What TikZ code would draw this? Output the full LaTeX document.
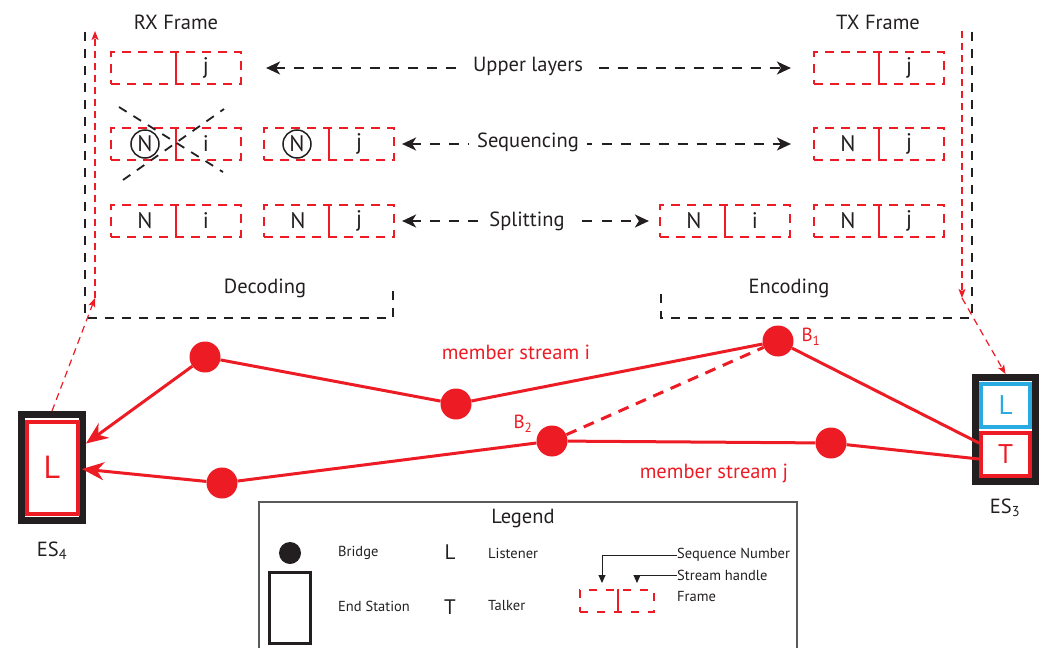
\documentclass[tikz,border=0pt]{standalone}
\usepackage{fontspec}
\setmainfont{PT Sans}
\usetikzlibrary{arrows.meta,calc}
\definecolor{myred}{HTML}{ED1C24}
\definecolor{myblue}{HTML}{29ABE2}
\definecolor{dark}{HTML}{231F20}
\newcommand\rfr[5]{%
  \node[fr] (#1) at (#2,#3) {};
  \draw[myred, line width=2.2pt] (#1.north) -- (#1.south);
  \node[ftxt] (#1l) at ($(#1.center)+(-31,0)$) {#4};
  \node[ftxt] (#1r) at ($(#1.center)+(30,0)$) {#5};
}
\begin{document}
\begin{tikzpicture}[x=1pt,y=-1pt,
  lbl/.style={inner sep=0pt, font=\fontsize{20.5}{23}\selectfont, text=dark},
  ftxt/.style={inner sep=0pt, font=\fontsize{22.5}{25}\selectfont, text=dark},
  fr/.style={draw=myred, line width=2.2pt, dash pattern=on 9pt off 7pt, minimum width=130pt, minimum height=32pt, inner sep=0pt},
  darr/.style={draw=dark, line width=1.8pt, dash pattern=on 10pt off 9pt, {Stealth[length=14pt,width=13pt,inset=4pt]}-{Stealth[length=14pt,width=13pt,inset=4pt]}},
  bdash/.style={draw=dark, line width=1.5pt, dash pattern=on 9pt off 8pt},
  tarr/.style={draw=myred, line width=1.2pt, dash pattern=on 7pt off 5pt, -{Stealth[length=9pt,width=7pt,inset=2pt]}},
  bridge/.style={circle, fill=myred, minimum size=31pt, inner sep=0pt},
  rl/.style={draw=myred, line width=3pt},
  rarr/.style={draw=myred, line width=3pt, -{Stealth[length=22pt,width=18pt,inset=7pt]}},
  rtxt/.style={inner sep=0pt, font=\fontsize{20.5}{23}\selectfont, text=myred},
  gtxt/.style={inner sep=0pt, font=\fontsize{14.5}{16}\selectfont, text=dark, anchor=west},
]
\useasboundingbox (0,0) rectangle (1047,648);

% titles
\node[lbl] (rxt) at (176,22) {RX Frame};
\node[lbl] (txt) at (878,22) {TX Frame};
\node[lbl] (dec) at (265,288) {Decoding};
\node[lbl] (enc) at (789,288) {Encoding};

% black dashed frames
\draw[bdash] (85,32) -- (85,318) -- (393,318) -- (393,288);
\draw[bdash] (972,32) -- (972,318) -- (661,318) -- (661,288);

% frames
\rfr{rxa}{176}{68}{}{j}
\rfr{txa}{879}{68}{}{j}
\node[fr] (rxb) at (176,144) {};
\draw[myred, line width=2.2pt] (rxb.north) -- (rxb.south);
\node[circle, draw=dark, line width=1.5pt, minimum size=28pt, inner sep=0pt, ftxt] (rxbl) at (145,144) {N};
\node[ftxt] (rxbr) at (206,144) {i};
\node[fr] (rxc) at (329,144) {};
\draw[myred, line width=2.2pt] (rxc.north) -- (rxc.south);
\node[circle, draw=dark, line width=1.5pt, minimum size=28pt, inner sep=0pt, ftxt] (rxcl) at (297,144) {N};
\node[ftxt] (rxcr) at (359,144) {j};
\rfr{txb}{879}{144}{N}{j}
\rfr{rxd}{176}{221}{N}{i}
\rfr{rxe}{329}{221}{N}{j}
\rfr{txd}{725}{221}{N}{i}
\rfr{txe}{879}{221}{N}{j}

% cross
\draw[bdash, line width=1.8pt] (119,107) -- (223,172);
\draw[bdash, line width=1.8pt] (123,180) -- (224,109);

% layer arrows
\draw[darr] ([xshift=24pt]rxa.east) -- ([xshift=-22pt]txa.west);
\node[lbl, fill=white, inner xsep=8pt, inner ysep=2pt] (ul) at (528,66) {Upper layers};
\draw[darr] ([xshift=7pt]rxc.east) -- ([xshift=-22pt]txb.west);
\node[lbl, fill=white, inner xsep=8pt, inner ysep=2pt] (sq) at (528,142) {Sequencing};
\draw[darr] ([xshift=7pt]rxe.east) -- ([xshift=-10pt]txd.west);
\node[lbl, fill=white, inner xsep=8pt, inner ysep=2pt] (sp) at (527,221) {Splitting};

% end stations
\node[draw=dark, line width=7pt, minimum width=61pt, minimum height=106pt, inner sep=0pt] (es4) at (52,467.5) {};
\node[draw=myred, line width=4pt, minimum width=51pt, minimum height=92pt, inner sep=0pt, text=myred, font=\fontsize{32}{34}\selectfont] (es4i) at (52,467.5) {L};
\node[lbl] (es4l) at (52,551) {ES\textsubscript{4}};

\node[draw=dark, line width=7pt, minimum width=60pt, minimum height=104pt, inner sep=0pt] (es3) at (1005.5,429.5) {};
\node[draw=myblue, line width=4pt, minimum width=49pt, minimum height=43pt, inner sep=0pt, text=myblue, font=\fontsize{27}{29}\selectfont] (esL) at (1005.5,405) {L};
\node[draw=myred, line width=4pt, minimum width=49pt, minimum height=43pt, inner sep=0pt, text=myred, font=\fontsize{27}{29}\selectfont] (esT) at (1005.5,454) {T};
\node[lbl] (es3l) at (1005,508) {ES\textsubscript{3}};

% bridges
\node[bridge] (ba) at (205,357) {};
\node[bridge] (bb) at (456,404) {};
\node[bridge] (b1) at (778,341) {};
\node[bridge] (b2) at (552,441) {};
\node[bridge] (bc) at (831,443) {};
\node[bridge] (bd) at (222,483) {};
\node[rtxt, font=\fontsize{19}{21}\selectfont] (b1l) at (811,337) {B\textsubscript{1}};
\node[rtxt, font=\fontsize{19}{21}\selectfont] (b2l) at (523,424) {B\textsubscript{2}};

% streams
\draw[rl] ([yshift=11pt]esT.west) -- (b1) -- (bb) -- (ba);
\draw[rarr] (ba) -- ([yshift=24pt]es4.east);
\draw[rl] ([yshift=-5pt]esT.west) -- (bc) -- (b2) -- (bd);
\draw[rarr] (bd) -- ([xshift=-4pt,yshift=-1.5pt]es4.east);
\draw[rl, dash pattern=on 11pt off 8pt] (b2) -- (b1);
\node[rtxt] (msi) at (516,352) {member stream i};
\node[rtxt] (msj) at (714,473) {member stream j};

% thin red dashed arrows
\coordinate (lbot) at (95,298);
\coordinate (ltop) at (95,31);
\draw[tarr] (es4.north) -- (lbot);
\draw[tarr] (lbot) -- (ltop);
\coordinate (rtop) at (962,31);
\coordinate (rbot) at (962,298);
\draw[tarr] (rtop) -- (rbot);
\draw[tarr] (rbot) -- (es3.north);

% legend
\draw[draw=black!65, line width=1.5pt] (259,652) -- (259,502) -- (797,502) -- (797,652);
\node[lbl] (leg) at (523,518) {Legend};
\node[circle, fill=dark, minimum size=22pt, inner sep=0pt] (lgb) at (290,553) {};
\node[draw=dark, line width=3pt, minimum width=41pt, minimum height=71pt, inner sep=0pt] (lge) at (290,608) {};
\node[gtxt] (lgbt) at (338,553) {Bridge};
\node[gtxt] (lget) at (338,606) {End Station};
\node[inner sep=0pt, font=\fontsize{21}{24}\selectfont, text=dark] (lgL) at (450,552) {L};
\node[inner sep=0pt, font=\fontsize{21}{24}\selectfont, text=dark] (lgT) at (450,607) {T};
\node[gtxt] (lglt) at (488,553) {Listener};
\node[gtxt] (lgtt) at (488,606) {Talker};
\node[fr, minimum width=74pt, minimum height=22pt, dash pattern=on 8pt off 9pt] (lgf) at (617,601) {};
\draw[myred, line width=2pt] ([xshift=1pt]lgf.north) -- ([xshift=1pt]lgf.south);
\node[gtxt] (lgsn) at (677,555) {Sequence Number};
\node[gtxt] (lgsh) at (677,575) {Stream handle};
\node[gtxt] (lgfr) at (677,597) {Frame};
\draw[dark, line width=0.9pt, -{Triangle[length=8pt,width=7pt]}] (lgsn.west) -- (602,555) -- (602,583);
\draw[dark, line width=0.9pt, -{Triangle[length=8pt,width=7pt]}] (lgsh.west) -- (637,575) -- (637,583);
\end{tikzpicture}
\end{document}
